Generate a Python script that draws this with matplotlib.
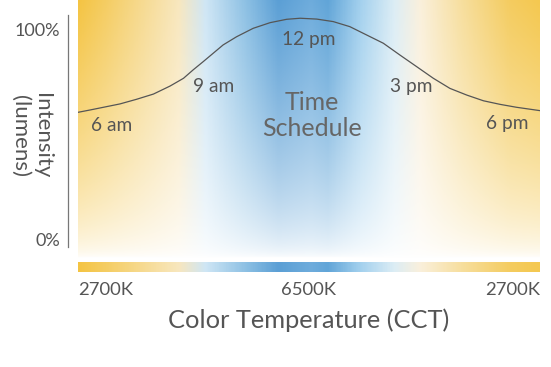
import numpy as np
import matplotlib
matplotlib.use("Agg")
import matplotlib.pyplot as plt
from matplotlib.colors import LinearSegmentedColormap

plt.rcParams['font.family'] = ['Lato', 'DejaVu Sans']

# ---- data ----
hours = [6.00, 6.31, 6.66, 7.09, 7.52, 7.96, 8.39, 8.74, 8.99, 9.25, 9.51,
         9.77, 10.12, 10.55, 10.99, 11.42, 11.77, 12.20, 12.63, 13.06, 13.50,
         13.93, 14.36, 14.80, 15.23, 15.66, 16.10, 16.53, 16.96, 17.39, 18.00]
intensity = [60.8, 61.9, 63.2, 64.8, 67.0, 69.5, 73.3, 77.0, 81.0, 84.9, 88.9,
             92.9, 96.8, 100.8, 103.5, 105.1, 105.6, 105.2, 104.0, 101.6, 97.6,
             93.7, 88.1, 82.5, 77.0, 72.2, 69.0, 66.3, 64.6, 63.2, 61.6]

time_labels = ["6 am", "9 am", "12 pm", "3 pm", "6 pm"]
label_hours = [6.88, 9.51, 12.0, 14.65, 17.14]
label_intensity = [54.3, 72.9, 95.7, 72.9, 55.7]

y_ticks = [0, 100]
y_ticklabels = ["0%", "100%"]

cct_ticks = [0.0, 0.5, 1.0]
cct_labels = ["2700K", "6500K", "2700K"]

# gradient colour stops (fraction across, colour)
grad_pos = [0.0, 0.071, 0.216, 0.275, 0.361, 0.433, 0.504, 0.541,
            0.613, 0.686, 0.742, 0.829, 0.937, 1.0]
grad_cols = ["#F4C443", "#F5CF6A", "#F8E7BE", "#CFE6F5", "#8EC1E4", "#5B9FD5",
             "#6EACDC", "#61A5D8", "#A4D1EE", "#DCEDF5", "#FAF0DC", "#F7DFA0",
             "#F4CC60", "#F4C850"]

text_col = "#555555"

W, H = 551, 367
fig = plt.figure(figsize=(W / 100, H / 100), dpi=100)

# main axes: x 78..540 px, y 0..258 px (from top)
ax = fig.add_axes([78 / W, (H - 258) / H, 462 / W, 258 / H])
ymin, ymax = (240 - 258) / 2.1, 240 / 2.1
ax.set_xlim(6, 18)
ax.set_ylim(ymin, ymax)

cmap = LinearSegmentedColormap.from_list("cct", list(zip(grad_pos, grad_cols)))
nx, ny = 600, 300
xs = np.linspace(0, 1, nx)
prof = cmap(xs)[:, :3]
t = np.linspace(0, 1, ny)[:, None, None]
a = (1 - t) ** 0.6
img = 1 - a * (1 - prof[None, :, :])
ax.imshow(img, extent=[6, 18, ymin, ymax], aspect="auto", origin="upper",
          interpolation="bilinear", zorder=0)

ax.plot(hours, intensity, color="#555555", lw=0.9, zorder=2)

for lab, hx, iy in zip(time_labels, label_hours, label_intensity):
    ax.text(hx, iy, lab, ha="center", va="center", fontsize=13.8, color=text_col)

ax.text(12.08, 59.3, "Time\nSchedule", ha="center", va="center", fontsize=18,
        color="#666666", linespacing=1.12)

for s in ["top", "right", "bottom"]:
    ax.spines[s].set_visible(False)
ax.spines["left"].set_position(("outward", 7.2))
ax.spines["left"].set_bounds((240 - 247) / 2.1, (240 - 15) / 2.1)
ax.spines["left"].set_color("#777777")
ax.spines["left"].set_linewidth(0.9)
ax.set_yticks(y_ticks)
ax.set_yticklabels(y_ticklabels)
ax.tick_params(axis="y", length=0, pad=5.8, labelsize=13, labelcolor=text_col)
ax.set_xticks([])
ax.set_ylabel("Intensity\n(lumens)", rotation=270, fontsize=16, color=text_col,
              ha="center", va="center", linespacing=1.14)
ax.yaxis.set_label_coords((31 - 78) / 462, (258 - 136) / 258)

# colour bar axes
bx = fig.add_axes([78 / W, (H - 272) / H, 462 / W, 10 / H])
bx.imshow(prof[None, :, :], extent=[0, 1, 0, 1], aspect="auto",
          interpolation="bilinear")
bx.set_xlim(0, 1)
bx.set_ylim(0, 1)
for s in bx.spines.values():
    s.set_visible(False)
bx.set_yticks([])
bx.set_xticks(cct_ticks)
bx.set_xticklabels(cct_labels)
bx.tick_params(axis="x", length=0, pad=7, labelsize=13.3, labelcolor=text_col)
tl = bx.get_xticklabels()
tl[0].set_ha("left")
tl[-1].set_ha("right")
bx.set_xlabel("Color Temperature (CCT)", fontsize=18.3, color=text_col, labelpad=8)

fig.savefig("out.png", dpi=100)
